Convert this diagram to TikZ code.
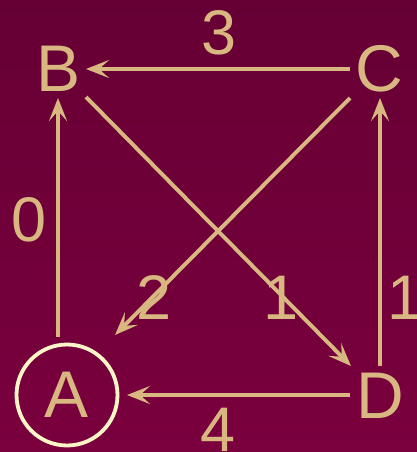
\documentclass[tikz,border=0pt]{standalone}
\usepackage{fontspec}
\setmainfont{Liberation Sans}
\usetikzlibrary{arrows.meta,calc}
\definecolor{bgtop}{RGB}{102,0,52}
\definecolor{bgbot}{RGB}{122,0,62}
\definecolor{tan}{RGB}{216,184,128}
\definecolor{pale}{RGB}{255,246,200}
\tikzset{
  vert/.style={text=tan, inner sep=0pt, font=\fontsize{66}{66}\selectfont},
  wlabel/.style={text=tan, inner sep=0pt, font=\fontsize{63}{63}\selectfont},
  arr/.style={draw=tan, line width=3.9pt,
    -{Stealth[length=23pt,width=18pt,inset=10pt]}},
}
\begin{document}
\begin{tikzpicture}[x=1pt,y=-1pt]
\shade[top color=bgtop, bottom color=bgbot] (0,0) rectangle (417,452);
\useasboundingbox (0,0) rectangle (417,452);
\node[vert] (B) at (59,69) {B};
\node[vert] (C) at (379,69) {C};
\node[vert] (D) at (380,396) {D};
\node[vert, circle, draw=pale, line width=3.8pt, minimum size=101pt] (A) at (67,395) {A};
% edges
\draw[arr] ($(A.center)+(-9,-58)$) -- ($(B.center)+(-1,29)$);
\draw[arr] ($(C.center)+(-29,0)$) -- ($(B.center)+(27,0)$);
\draw[arr] ($(B.center)+(27,28)$) -- ($(D.center)+(-29,-30)$);
\draw[arr] ($(C.center)+(-29,29)$) -- ($(A.center)+(48,-60)$);
\draw[arr] ($(D.center)+(0,-30)$) -- ($(C.center)+(1,29)$);
\draw[arr] ($(D.center)+(-30,-1)$) -- ($(A.center)+(60,0)$);
% weights
\node[wlabel] (w3) at (219,33) {3};
\node[wlabel] (w0) at (29,220) {0};
\node[wlabel] (w2) at (154,298) {2};
\node[wlabel] (w1a) at (281,298) {1};
\node[wlabel] (w1b) at (405,298) {1};
\node[wlabel] (w4) at (218,430) {4};
\end{tikzpicture}
\end{document}
